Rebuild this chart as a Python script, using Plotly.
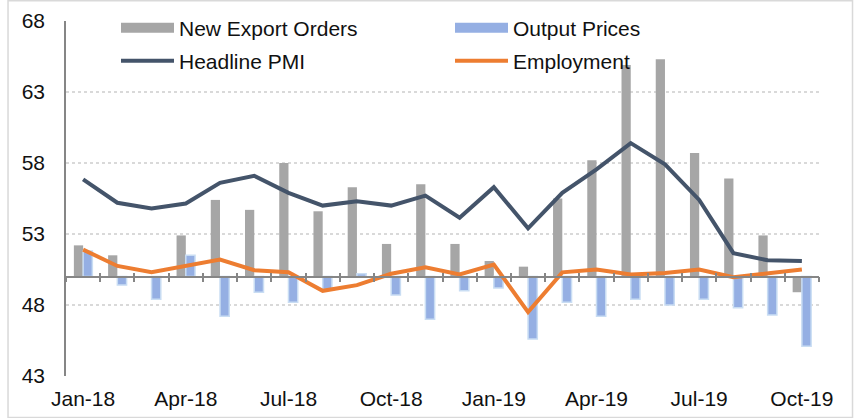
import plotly.graph_objects as go

months = ["Jan-18", "Feb-18", "Mar-18", "Apr-18", "May-18", "Jun-18", "Jul-18", "Aug-18",
          "Sep-18", "Oct-18", "Nov-18", "Dec-18", "Jan-19", "Feb-19", "Mar-19", "Apr-19",
          "May-19", "Jun-19", "Jul-19", "Aug-19", "Sep-19", "Oct-19"]
new_export_orders = [52.2, 51.5, 50.0, 52.9, 55.4, 54.7, 58.0, 54.6, 56.3, 52.3, 56.5, 52.3,
                     51.1, 50.7, 55.5, 58.2, 64.9, 65.3, 58.7, 56.9, 52.9, 48.9]
output_prices = [51.8, 49.4, 48.4, 51.5, 47.2, 48.9, 48.2, 49.1, 50.2, 48.7, 47.0, 49.0,
                 49.2, 45.6, 48.2, 47.2, 48.4, 48.0, 48.4, 47.8, 47.3, 45.1]
headline_pmi = [56.85, 55.2, 54.8, 55.15, 56.6, 57.1, 55.9, 55.0, 55.3, 55.0, 55.7, 54.15,
                56.3, 53.4, 55.9, 57.55, 59.4, 57.9, 55.4, 51.65, 51.15, 51.1]
employment = [51.9, 50.75, 50.3, 50.75, 51.2, 50.45, 50.3, 49.0, 49.4, 50.2, 50.65, 50.15,
              50.85, 47.5, 50.3, 50.5, 50.15, 50.25, 50.5, 49.95, 50.25, 50.5]

BASE = 50
Y_MIN, Y_MAX = 43, 68
x = list(range(len(months)))

GRAY = "#A6A6A6"
BLUE = "#95AFE3"
BLUE_EDGE = "#C9DDF3"
NAVY = "#44546A"
ORANGE = "#ED7D31"
AXIS = "#868686"
FONT = dict(family="Liberation Sans, Arial, sans-serif", size=21, color="#111111")

W, H = 858, 418

fig = go.Figure()
fig.add_trace(go.Bar(x=x, y=[v - BASE for v in new_export_orders], base=BASE,
                     marker=dict(color=GRAY, line=dict(width=0)), showlegend=False,
                     name="New Export Orders"))
fig.add_trace(go.Bar(x=x, y=[v - BASE for v in output_prices], base=BASE,
                     marker=dict(color=BLUE, line=dict(color=BLUE_EDGE, width=1.5)),
                     showlegend=False, name="Output Prices"))
fig.add_trace(go.Scatter(x=x, y=headline_pmi, mode="lines", showlegend=False,
                         line=dict(color=NAVY, width=4), name="Headline PMI"))
fig.add_trace(go.Scatter(x=x, y=employment, mode="lines", showlegend=False,
                         line=dict(color=ORANGE, width=4), name="Employment"))

# legend entries
fig.add_trace(go.Scatter(x=[None], y=[None], mode="lines", name="New Export Orders",
                         line=dict(color=GRAY, width=10), legend="legend"))
fig.add_trace(go.Scatter(x=[None], y=[None], mode="lines", name="Output Prices",
                         line=dict(color=BLUE, width=10), legend="legend"))
fig.add_trace(go.Scatter(x=[None], y=[None], mode="lines", name="Headline PMI",
                         line=dict(color=NAVY, width=4), legend="legend2"))
fig.add_trace(go.Scatter(x=[None], y=[None], mode="lines", name="Employment",
                         line=dict(color=ORANGE, width=4), legend="legend2"))

# baseline axes (cross ticks at category boundaries)
for ax in ("x2", "x3"):
    fig.add_trace(go.Scatter(x=[None], y=[None], xaxis=ax, showlegend=False, hoverinfo="skip"))

bounds = [i - 0.5 for i in range(len(months) + 1)]
base_pos = (BASE - Y_MIN) / (Y_MAX - Y_MIN)
xr = [-0.5, len(months) - 0.5]

legend_common = dict(orientation="h", xanchor="left", yanchor="middle", font=FONT,
                     itemwidth=53, entrywidth=266, entrywidthmode="pixels",
                     bgcolor="rgba(0,0,0,0)", itemclick=False,
                     xref="container", yref="container")

fig.update_layout(
    width=W, height=H, autosize=False,
    margin=dict(l=66, r=39, t=21, b=42, autoexpand=False),
    paper_bgcolor="white", plot_bgcolor="white",
    font=FONT,
    barmode="group", bargap=0.46, bargroupgap=0,
    xaxis=dict(range=xr, tickvals=x[::3], ticktext=months[::3], showgrid=False,
               zeroline=False, showline=False, ticks="", tickfont=FONT,
               ticklabelstandoff=8, automargin=False),
    xaxis2=dict(range=xr, overlaying="x", anchor="free", position=base_pos,
                tickvals=bounds, showticklabels=False, ticks="outside", ticklen=5,
                tickwidth=1.5, tickcolor=AXIS, showline=True, linecolor=AXIS,
                linewidth=1.5, showgrid=False, zeroline=False, automargin=False),
    xaxis3=dict(range=xr, overlaying="x", anchor="free", position=base_pos,
                tickvals=bounds, showticklabels=False, ticks="inside", ticklen=4,
                tickwidth=1.5, tickcolor=AXIS, showline=False, showgrid=False,
                zeroline=False, automargin=False),
    yaxis=dict(range=[Y_MIN, Y_MAX], tick0=Y_MIN, dtick=5, showgrid=True,
               gridcolor="#D9D9D9", griddash="dot", gridwidth=1.5, zeroline=False,
               showline=True, linecolor=AXIS, linewidth=1.5, ticks="",
               tickfont=FONT, ticklabelstandoff=15, automargin=False),
    legend=dict(x=116 / W, y=1 - 28 / H, **legend_common),
    legend2=dict(x=116 / W, y=1 - 61 / H, **legend_common),
    shapes=[dict(type="rect", xref="paper", yref="paper",
                 x0=-0.077, x1=1.0445, y0=-0.117, y1=1.057,
                 line=dict(color="#D9D9D9", width=1.5), layer="below")],
)

fig.write_html("out.html", config={"displayModeBar": False})
with open("out.html", encoding="utf-8") as f:
    html = f.read()
html = html.replace("<head>", "<head><style>body{margin:0;padding:0;}</style>", 1)
with open("out.html", "w", encoding="utf-8") as f:
    f.write(html)
